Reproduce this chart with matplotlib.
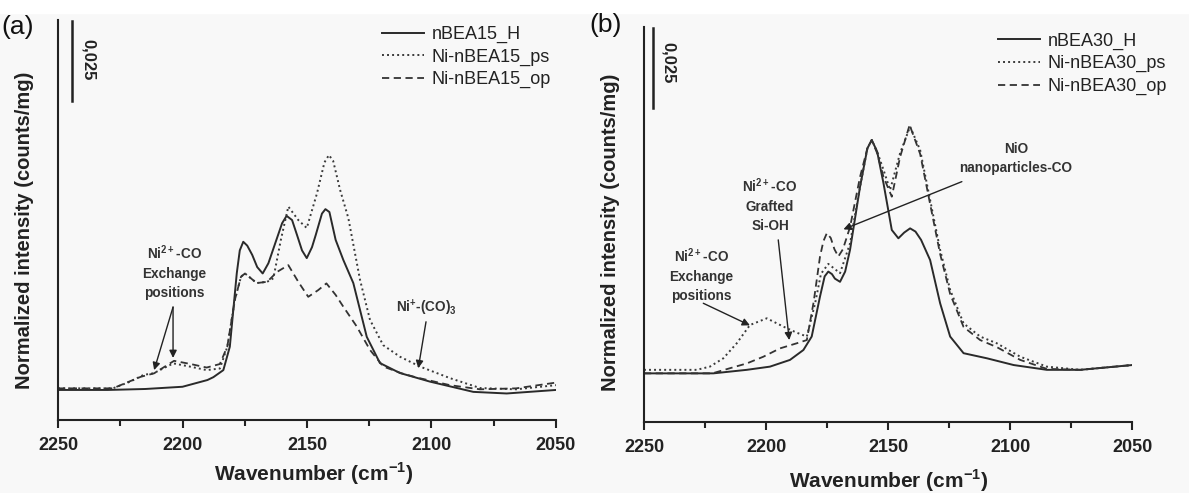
import numpy as np
import matplotlib
matplotlib.use('Agg')
import matplotlib.pyplot as plt
from matplotlib.patches import Rectangle

plt.rcParams['font.family'] = 'Liberation Sans'
plt.rcParams['mathtext.fontset'] = 'custom'
plt.rcParams['mathtext.rm'] = 'Liberation Sans'
plt.rcParams['mathtext.bf'] = 'Liberation Sans:bold'

# (a) nBEA15 series, wavenumber (cm-1) / normalized intensity (counts/mg)
wn_a_H = [2250, 2230, 2215, 2200, 2190, 2187.6, 2183.6, 2181, 2178.2, 2177, 2175.6, 2174, 2172, 2170, 2167.8, 2165.5, 2163, 2160, 2158.2, 2156, 2154,
          2152, 2150.1, 2148, 2146.5, 2144, 2142.6, 2141, 2138.5, 2135.4, 2131.4, 2126, 2120.7, 2112.7, 2100.6, 2083.2, 2069.8, 2050]
int_a_H = [0.0094, 0.0094, 0.0097, 0.0104, 0.0125, 0.0134, 0.0156, 0.0229, 0.0459, 0.053, 0.0557, 0.0545, 0.0516, 0.0478, 0.0458, 0.049, 0.0547, 0.0615, 0.0638, 0.0625, 0.0578,
           0.053, 0.0506, 0.054, 0.0578, 0.0645, 0.0659, 0.065, 0.0563, 0.05, 0.0428, 0.026, 0.0178, 0.0147, 0.012, 0.0088, 0.0083, 0.0094]

wn_a_ps = [2250, 2228, 2221, 2215.7, 2211.7, 2203.7, 2197, 2190.3, 2185, 2182, 2179, 2176.5, 2174.9, 2170.2, 2166, 2163.5, 2160.5, 2157.5,
           2153.5, 2150.1, 2146, 2143, 2141.2, 2139.5, 2136.7, 2133.4, 2128.7, 2124.7, 2119.4, 2112.7, 2104.6, 2092.6, 2080.5, 2066, 2050]
int_a_ps = [0.0099, 0.0099, 0.012, 0.0141, 0.0146, 0.0177, 0.0167, 0.0156, 0.0161, 0.0229, 0.0375, 0.0448, 0.0458, 0.0428, 0.0432, 0.0443, 0.0563, 0.0667,
            0.0625, 0.06, 0.0708, 0.0805, 0.0828, 0.081, 0.0719, 0.0631, 0.0438, 0.0313, 0.0234, 0.0198, 0.0167, 0.0131, 0.01, 0.0096, 0.0109]

wn_a_op = [2250, 2228, 2216.8, 2211.4, 2203.4, 2196.7, 2190.3, 2185, 2182, 2179, 2176.5, 2174.9, 2170.2, 2166, 2162, 2157.5, 2153.5,
           2149.5, 2145.5, 2142.2, 2138.5, 2135.4, 2130, 2124.7, 2119.3, 2112, 2106, 2092.6, 2080.5, 2066, 2050]
int_a_op = [0.0099, 0.0099, 0.0135, 0.0146, 0.0185, 0.0175, 0.0164, 0.0175, 0.023, 0.0375, 0.0448, 0.0458, 0.0428, 0.0432, 0.0463, 0.0484, 0.0432,
            0.0385, 0.0406, 0.0427, 0.0391, 0.0354, 0.0292, 0.0219, 0.0167, 0.0146, 0.0133, 0.0109, 0.0096, 0.0099, 0.0117]

# (b) nBEA30 series
wn_b_H = [2250, 2221.6, 2207.9, 2198.4, 2190.2, 2184.7, 2181.3, 2177.9, 2176, 2174.5, 2173, 2171.8, 2169.7, 2167.6, 2165.6, 2161.5, 2158.5, 2156.7, 2154.5,
          2151.9, 2148.5, 2145.8, 2143.4, 2141, 2138.8, 2136.5, 2132.8, 2128.7, 2124.6, 2119.1, 2109.5, 2098.6, 2085, 2071.3, 2050]
int_b_H = [0.0152, 0.0152, 0.0163, 0.0173, 0.0194, 0.0225, 0.0267, 0.0392, 0.0455, 0.047, 0.0462, 0.0448, 0.0438, 0.047, 0.0538, 0.0735, 0.0855, 0.0881, 0.0845,
           0.0746, 0.06, 0.0574, 0.0592, 0.0605, 0.0595, 0.0569, 0.0506, 0.0371, 0.0267, 0.0215, 0.0199, 0.0178, 0.0163, 0.0163, 0.0178]

wn_b_ps = [2250, 2228.4, 2223, 2217.5, 2212, 2206.6, 2199.7, 2192.9, 2187.4, 2183.3, 2179.9, 2177.5, 2174.5, 2169.7, 2165.6, 2161.5, 2158.5, 2156.7,
           2154.5, 2151.9, 2149.2, 2145.1, 2141, 2136.9, 2132.8, 2128.7, 2124.6, 2119.1, 2112.3, 2105.5, 2095.9, 2085, 2071.3, 2050]
int_b_ps = [0.0163, 0.0163, 0.0173, 0.0199, 0.0246, 0.0303, 0.0324, 0.0298, 0.0279, 0.0267, 0.0371, 0.0463, 0.0494, 0.0465, 0.0558, 0.0734, 0.0855, 0.0881,
            0.0845, 0.0788, 0.0725, 0.084, 0.0923, 0.085, 0.0694, 0.0538, 0.0413, 0.0308, 0.0267, 0.0246, 0.0204, 0.0173, 0.0163, 0.0178]

wn_b_op = [2250, 2222, 2214.8, 2207.9, 2201.1, 2194.3, 2187.4, 2183.3, 2180.5, 2177.9, 2176.5, 2175.1, 2173.5, 2172, 2170.4, 2168.5, 2165.6, 2161.5, 2158.5,
           2156.7, 2154.5, 2151.9, 2148.5, 2145.1, 2141.2, 2136.9, 2132.8, 2128.7, 2124.6, 2119.1, 2112.3, 2105.5, 2095.9, 2085, 2071.3, 2050]
int_b_op = [0.0152, 0.0152, 0.0168, 0.0183, 0.0204, 0.023, 0.0246, 0.0256, 0.0375, 0.0517, 0.0565, 0.059, 0.0575, 0.054, 0.0517, 0.054, 0.0609, 0.0766, 0.0855,
            0.0881, 0.084, 0.0766, 0.0704, 0.0828, 0.0928, 0.0838, 0.0681, 0.0525, 0.04, 0.0297, 0.0256, 0.0234, 0.0194, 0.0166, 0.0163, 0.0178]

labels_a = ['nBEA15_H', 'Ni-nBEA15_ps', 'Ni-nBEA15_op']
labels_b = ['nBEA30_H', 'Ni-nBEA30_ps', 'Ni-nBEA30_op']
scale_bar = 0.025

styles = [dict(color='#2a2a2a', lw=1.4, ls='-'),
          dict(color='#3a3a3a', lw=1.4, ls=(0, (1, 1.6))),
          dict(color='#333333', lw=1.3, ls=(0, (4, 2.5)))]

fig = plt.figure(figsize=(11.89, 4.93), dpi=100, facecolor='#f8f8f8')
fig.patches.append(Rectangle((0, 0.974), 1, 0.03, transform=fig.transFigure, color='white', zorder=0))

ax1 = fig.add_axes([0.0488, 0.148, 0.4188, 0.8114])
ax2 = fig.add_axes([0.5416, 0.144, 0.4107, 0.8018])

def setup(ax, ytop, lab_x, lab_y, xl_x, xl_y):
    ax.set_facecolor('none')
    ax.set_xlim(2250, 2050)
    ax.set_ylim(0, ytop)
    for s in ['top', 'right']:
        ax.spines[s].set_visible(False)
    for s in ['left', 'bottom']:
        ax.spines[s].set_linewidth(1.5)
        ax.spines[s].set_color('#222222')
    ax.set_yticks([])
    ax.set_xticks([2250, 2200, 2150, 2100, 2050])
    ax.set_xticks([2225, 2175, 2125, 2075], minor=True)
    ax.tick_params(axis='x', which='major', direction='out', length=6, width=1.5, color='#222222', pad=6, labelsize=13)
    ax.tick_params(axis='x', which='minor', direction='out', length=4, width=1.5, color='#222222')
    for t in ax.get_xticklabels():
        t.set_fontweight('bold')
        t.set_color('#222222')
    ax.set_xlabel(r'Wavenumber (cm$^{\mathbf{-1}}$)', fontsize=15, fontweight='bold', color='#222222')
    ax.xaxis.set_label_coords(xl_x, xl_y)
    ax.set_ylabel('Normalized intensity (counts/mg)', fontsize=14.5, fontweight='bold', color='#222222')
    ax.yaxis.set_label_coords(lab_x, lab_y)

setup(ax1, 0.125, -0.048, 0.475, 0.514, -0.1)
setup(ax2, 0.1235, -0.049, 0.48, 0.502, -0.116)

for wn, y, st, lb in zip([wn_a_H, wn_a_ps, wn_a_op], [int_a_H, int_a_ps, int_a_op], styles, labels_a):
    ax1.plot(wn, y, label=lb, **st)
for wn, y, st, lb in zip([wn_b_H, wn_b_ps, wn_b_op], [int_b_H, int_b_ps, int_b_op], styles, labels_b):
    ax2.plot(wn, y, label=lb, **st)

leg_kw = dict(frameon=False, loc='upper left', fontsize=13, handlelength=2.35, handletextpad=0.4,
              labelspacing=0.3, borderpad=0, borderaxespad=0, labelcolor='#222222')
ax1.legend(bbox_to_anchor=(0.65, 0.985), **leg_kw)
ax2.legend(bbox_to_anchor=(0.725, 0.985), **leg_kw)

# scale bars
ax1.plot([2244.3, 2244.3], [0.1248, 0.1248 - scale_bar], color='#222222', lw=1.8, clip_on=False)
ax1.text(2238, 0.1125, '0,025', rotation=-90, ha='center', va='center', fontsize=12, fontweight='bold', color='#222222')
ax2.plot([2246.2, 2246.2], [0.1231, 0.1231 - scale_bar], color='#222222', lw=1.8, clip_on=False)
ax2.text(2240.2, 0.1122, '0,025', rotation=-90, ha='center', va='center', fontsize=12, fontweight='bold', color='#222222')

fig.text(18 / 1189, 1 - 27 / 493, '(a)', fontsize=19, ha='center', va='center', color='#111111')
fig.text(606 / 1189, 1 - 25 / 493, '(b)', fontsize=19, ha='center', va='center', color='#111111')

arr = dict(arrowstyle='-|>', color='#222222', lw=1.0, mutation_scale=11, shrinkA=0, shrinkB=0)
ann_kw = dict(ha='center', va='center', fontsize=9.8, fontweight='bold', color='#333333', linespacing=1.45)

# annotations (a)
ax1.text(2203.4, 0.0463, 'Ni$^{\\mathbf{2+}}$-CO\nExchange\npositions', **ann_kw)
ax1.annotate('', xy=(2211.4, 0.0156), xytext=(2203.8, 0.0353), arrowprops=arr)
ax1.annotate('', xy=(2203.8, 0.0194), xytext=(2203.8, 0.0353), arrowprops=arr)
ax1.text(2102.2, 0.035, 'Ni$^{\\mathbf{+}}$-(CO)$_{\\mathbf{3}}$', **ann_kw)
ax1.annotate('', xy=(2105.3, 0.0162), xytext=(2102.2, 0.0307), arrowprops=arr)

# annotations (b)
ax2.text(2226.4, 0.0459, 'Ni$^{\\mathbf{2+}}$-CO\nExchange\npositions', **ann_kw)
ax2.annotate('', xy=(2206.6, 0.0302), xytext=(2225.7, 0.0371), arrowprops=arr)
ax2.text(2198.4, 0.0678, 'Ni$^{\\mathbf{2+}}$-CO\nGrafted\nSi-OH', **ann_kw)
ax2.annotate('', xy=(2190.5, 0.0256), xytext=(2195, 0.0569), arrowprops=arr)
ax2.text(2097.6, 0.0822, 'NiO\nnanoparticles-CO', **ann_kw)
ax2.annotate('', xy=(2168.3, 0.0602), xytext=(2119.8, 0.0751), arrowprops=arr)

fig.savefig('out.png', dpi=100, facecolor=fig.get_facecolor())
